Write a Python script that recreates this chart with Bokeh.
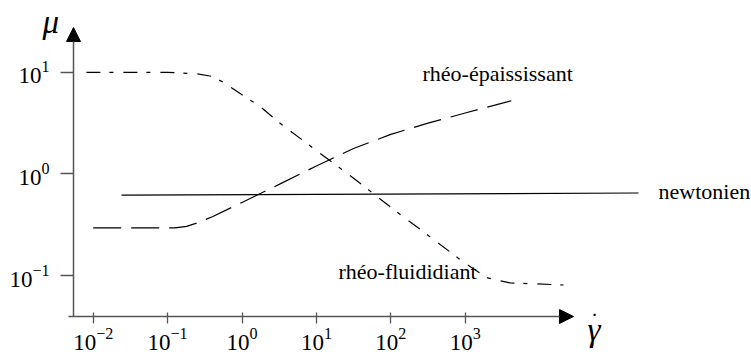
from bokeh.plotting import figure
from bokeh.models import Range1d, FixedTicker, Label, Arrow, NormalHead
from bokeh.embed import file_html
from bokeh.resources import INLINE

# Viscosity mu versus shear rate (log-log) for three fluid behaviours
gamma_newt = [0.024, 214000]
mu_newt = [0.62, 0.65]

gamma_thick = [0.01, 0.126, 0.18, 0.25, 0.40, 1.0, 3.16, 10, 31.6, 100, 316, 1000, 4170]
mu_thick = [0.295, 0.295, 0.305, 0.33, 0.38, 0.525, 0.79, 1.2, 1.78, 2.45, 3.16, 3.98, 5.25]

gamma_thin = [0.0081, 0.1, 0.25, 0.40, 0.575, 1.0, 1.78, 3.16, 10, 31.6, 100, 316, 1000, 2000, 4000, 21000]
mu_thin = [10.0, 10.0, 9.66, 9.1, 7.9, 6.0, 4.57, 3.2, 1.7, 0.91, 0.47, 0.25, 0.132, 0.095, 0.085, 0.081]

x_ticks = [0.01, 0.1, 1, 10, 100, 1000]
y_ticks = [0.1, 1, 10]

labels = ["rhéo-épaississant", "rhéo-fluididiant", "newtonien"]

# the frame fills the canvas; log10 ranges spanned across it
W, H = 751, 354
LX0, LX1 = -3.246, 6.848
LY0, LY1 = -1.775, 1.706


def at(px, py):
    """canvas pixel -> data coordinates"""
    lx = LX0 + px / W * (LX1 - LX0)
    ly = LY0 + (H - py) / H * (LY1 - LY0)
    return 10 ** lx, 10 ** ly


# where the two axes cross
X_AXIS_AT = at(0, 316)[1]
Y_AXIS_AT = at(73, 0)[0]

p = figure(width=W, height=H, x_axis_type="log", y_axis_type="log",
           x_range=Range1d(10 ** LX0, 10 ** LX1), y_range=Range1d(10 ** LY0, 10 ** LY1),
           output_backend="svg", toolbar_location=None, min_border=0)
p.outline_line_color = None
p.grid.visible = False
p.background_fill_color = "white"
p.border_fill_color = "white"

AX = "#555555"
for ax in (p.xaxis[0], p.yaxis[0]):
    ax.axis_line_color = None
    ax.major_tick_line_color = AX
    ax.major_tick_line_width = 1.3
    ax.minor_tick_line_color = None
    ax.major_label_text_font = "Liberation Serif"
    ax.major_label_text_font_size = "23px"
    ax.major_label_text_color = "black"

p.xaxis.fixed_location = X_AXIS_AT
p.yaxis.fixed_location = Y_AXIS_AT
p.xaxis.ticker = FixedTicker(ticks=x_ticks)
p.yaxis.ticker = FixedTicker(ticks=y_ticks)
p.xaxis.major_tick_in = 4
p.xaxis.major_tick_out = 7
p.xaxis.major_label_standoff = 4
p.yaxis.major_tick_in = 0
p.yaxis.major_tick_out = 13
p.yaxis.major_label_standoff = 11

# curves
p.line(gamma_newt, mu_newt, line_color="black", line_width=1.2)
p.line(gamma_thick, mu_thick, line_color="black", line_width=1.2, line_dash="28 10")
p.line(gamma_thin, mu_thin, line_color="black", line_width=1.2, line_dash="14 9 4 10")

# axes drawn as arrows
xs, _ = at(68, 0)
xt, _ = at(573, 0)
_, yt = at(0, 27)
p.add_layout(Arrow(end=NormalHead(size=14, fill_color="black", line_color="black"),
                   x_start=xs, y_start=X_AXIS_AT, x_end=xt, y_end=X_AXIS_AT,
                   line_color=AX, line_width=1.5))
p.add_layout(Arrow(end=NormalHead(size=14, fill_color="black", line_color="black"),
                   x_start=Y_AXIS_AT, y_start=X_AXIS_AT, x_end=Y_AXIS_AT, y_end=yt,
                   line_color=AX, line_width=1.5))

# curve names
for text, (px, py) in zip(labels, [(422, 73), (338, 271), (658, 191)]):
    x, y = at(px, py)
    p.add_layout(Label(x=x, y=y, text=text, text_font="Liberation Serif", text_color="black",
                       text_font_size="22px", text_baseline="alphabetic", text_align="left"))

# axis symbols: viscosity and shear rate (gamma with a dot above)
x, y = at(42, 21)
p.add_layout(Label(x=x, y=y, text="μ", text_font="Liberation Serif", text_font_style="italic",
                   text_color="black", text_font_size="33px", text_baseline="alphabetic"))
x, y = at(587, 329)
p.add_layout(Label(x=x, y=y, text="γ", text_font="Liberation Serif", text_font_style="italic",
                   text_color="black", text_font_size="33px", text_baseline="alphabetic"))
x, y = at(594, 320)
p.add_layout(Label(x=x, y=y, text="˙", text_font="Liberation Serif",
                   text_color="black", text_font_size="24px", text_baseline="alphabetic",
                   text_align="center"))

open("out.html", "w").write(file_html(p, INLINE))
